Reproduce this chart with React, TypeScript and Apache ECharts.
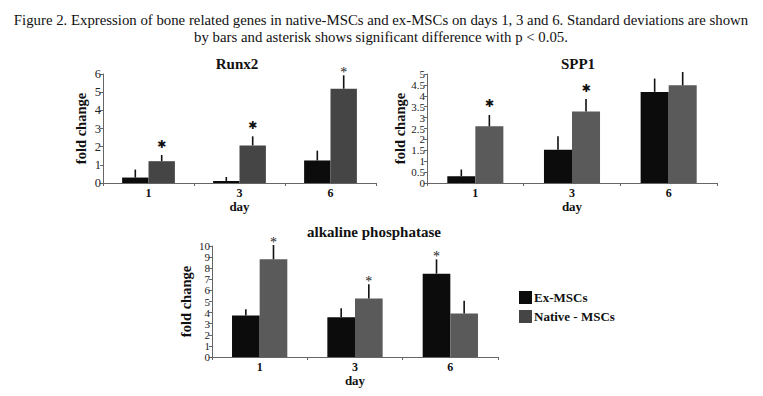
import React, { useEffect, useRef } from "react";
import * as echarts from "echarts";

const days = ["1", "3", "6"];

const runxEx = [0.3, 0.11, 1.24];
const runxExSd = [0.44, 0.22, 0.54];
const runxNative = [1.2, 2.07, 5.19];
const runxNativeSd = [0.34, 0.5, 0.74];
const runxExSig = ["", "", ""];
const runxNativeSig = ["bold", "bold", "plain"];

const sppEx = [0.31, 1.52, 4.18];
const sppExSd = [0.31, 0.63, 0.61];
const sppNative = [2.6, 3.28, 4.48];
const sppNativeSd = [0.52, 0.57, 0.61];
const sppExSig = ["", "", ""];
const sppNativeSig = ["bold", "bold", ""];

const alkEx = [3.74, 3.59, 7.51];
const alkExSd = [0.57, 0.81, 1.29];
const alkNative = [8.8, 5.27, 3.92];
const alkNativeSd = [1.29, 1.29, 1.14];
const alkExSig = ["", "", "plain"];
const alkNativeSig = ["plain", "plain", ""];

const caption1 =
  "Figure 2. Expression of bone related genes in native-MSCs and ex-MSCs on days 1, 3 and 6. Standard deviations are shown";
const caption2 = "by bars and asterisk shows significant difference with p < 0.05.";

const SERIF = "'Liberation Serif', 'DejaVu Serif', serif";
const EX_COLOR = "#0c0c0c";
const GAP = 0.42;

export default function App() {
  const ref = useRef<HTMLDivElement>(null);
  useEffect(() => {
    if (!ref.current) return;
    const chart = echarts.init(ref.current, null, { renderer: "svg" });

    const panels = [
      { title: "Runx2", ex: runxEx, exSd: runxExSd, nat: runxNative, natSd: runxNativeSd, exSig: runxExSig, natSig: runxNativeSig, max: 6, interval: 1, grid: { left: 103, top: 74, width: 273, height: 109 }, natColor: "#454545", titleX: 237, titleY: 64, nameGap: 15, labelSize: 12.5 },
      { title: "SPP1", ex: sppEx, exSd: sppExSd, nat: sppNative, natSd: sppNativeSd, exSig: sppExSig, natSig: sppNativeSig, max: 5, interval: 0.5, grid: { left: 427, top: 74, width: 290, height: 109 }, natColor: "#5a5a5a", titleX: 578, titleY: 64, nameGap: 17, labelSize: 11 },
      { title: "alkaline phosphatase", ex: alkEx, exSd: alkExSd, nat: alkNative, natSd: alkNativeSd, exSig: alkExSig, natSig: alkNativeSig, max: 10, interval: 1, grid: { left: 212, top: 246, width: 286, height: 111 }, natColor: "#5a5a5a", titleX: 374, titleY: 232, nameGap: 19, labelSize: 11 },
    ];

    const grids: any[] = [];
    const xAxes: any[] = [];
    const yAxes: any[] = [];
    const series: any[] = [];
    const graphics: any[] = [];

    const errSeries = (i: number, vals: number[], sds: number[], sigs: string[], side: number) => ({
      type: "custom",
      xAxisIndex: i,
      yAxisIndex: i,
      silent: true,
      z: 5,
      data: vals.map((v, k) => [k, v, sds[k]]),
      renderItem: (params: any, api: any) => {
        const cat = api.value(0);
        const v = api.value(1);
        const sd = api.value(2);
        const sig = sigs[cat];
        const band = api.size([1, 0])[0];
        const bw = (band * (1 - GAP)) / 2;
        const base = api.coord([cat, v]);
        const top = api.coord([cat, v + sd]);
        const x = base[0] + (side * bw) / 2;
        const children: any[] = [
          { type: "line", shape: { x1: x, y1: base[1], x2: x, y2: top[1] }, style: { stroke: "#111", lineWidth: 1.6 } },
        ];
        if (sig === "bold") {
          children.push({ type: "text", x, y: top[1] - 11, style: { text: "✱", font: "bold 11px 'DejaVu Sans'", fill: "#111", align: "center", verticalAlign: "middle" } });
        } else if (sig === "plain") {
          children.push({ type: "text", x, y: top[1] + 4, style: { text: "*", font: "14px " + SERIF, fill: "#222", align: "center", verticalAlign: "bottom" } });
        }
        return { type: "group", children };
      },
    });

    panels.forEach((p, i) => {
      grids.push({ ...p.grid });
      xAxes.push({
        type: "category",
        gridIndex: i,
        data: days,
        name: "day",
        nameLocation: "middle",
        nameGap: 16,
        nameTextStyle: { fontFamily: SERIF, fontWeight: "bold", fontSize: 13, color: "#111" },
        axisLine: { lineStyle: { color: "#666", width: 1 } },
        axisTick: { show: true, length: 3, lineStyle: { color: "#666" } },
        axisLabel: { fontFamily: SERIF, fontWeight: "bold", fontSize: 12, color: "#111", margin: 4 },
      });
      yAxes.push({
        type: "value",
        gridIndex: i,
        min: 0,
        max: p.max,
        interval: p.interval,
        name: "fold change",
        nameLocation: "middle",
        nameGap: p.nameGap,
        nameRotate: 90,
        nameTextStyle: { fontFamily: SERIF, fontWeight: "bold", fontSize: 14.5, color: "#111" },
        axisLine: { show: true, lineStyle: { color: "#666", width: 1 } },
        axisTick: { show: true, length: 3, lineStyle: { color: "#666" } },
        axisLabel: { fontFamily: SERIF, fontSize: p.labelSize, color: "#222", margin: 2 },
        splitLine: { show: false },
      });
      series.push({
        type: "bar",
        name: "Ex-MSCs",
        xAxisIndex: i,
        yAxisIndex: i,
        data: p.ex,
        itemStyle: { color: EX_COLOR },
        barGap: "0%",
        barCategoryGap: GAP * 100 + "%",
      });
      series.push({
        type: "bar",
        name: "Native - MSCs",
        xAxisIndex: i,
        yAxisIndex: i,
        data: p.nat,
        itemStyle: { color: p.natColor },
        barGap: "0%",
        barCategoryGap: GAP * 100 + "%",
      });
      series.push(errSeries(i, p.ex, p.exSd, p.exSig, -1));
      series.push(errSeries(i, p.nat, p.natSd, p.natSig, 1));
      graphics.push({
        type: "text",
        x: p.titleX,
        y: p.titleY,
        style: { text: p.title, font: "bold 15px " + SERIF, fill: "#111", align: "center", verticalAlign: "middle" },
      });
    });

    graphics.push({ type: "text", x: 381, y: 20, style: { text: caption1, font: "14.8px " + SERIF, fill: "#111", align: "center", verticalAlign: "middle" } });
    graphics.push({ type: "text", x: 381, y: 37, style: { text: caption2, font: "14.8px " + SERIF, fill: "#111", align: "center", verticalAlign: "middle" } });

    chart.setOption({
      animation: false,
      backgroundColor: "#ffffff",
      grid: grids,
      xAxis: xAxes,
      yAxis: yAxes,
      series,
      graphic: graphics,
      legend: {
        data: ["Ex-MSCs", "Native - MSCs"],
        orient: "vertical",
        left: 514,
        top: 286,
        itemWidth: 13,
        itemHeight: 13,
        itemGap: 6,
        icon: "rect",
        selectedMode: false,
        textStyle: { fontFamily: SERIF, fontWeight: "bold", fontSize: 13, color: "#111", padding: [0, 0, 0, -3] },
      },
    });
    return () => chart.dispose();
  }, []);

  return (
    <div
      ref={ref}
      style={{ position: "fixed", left: 0, top: 0, width: 763, height: 396, background: "#fff" }}
    />
  );
}
